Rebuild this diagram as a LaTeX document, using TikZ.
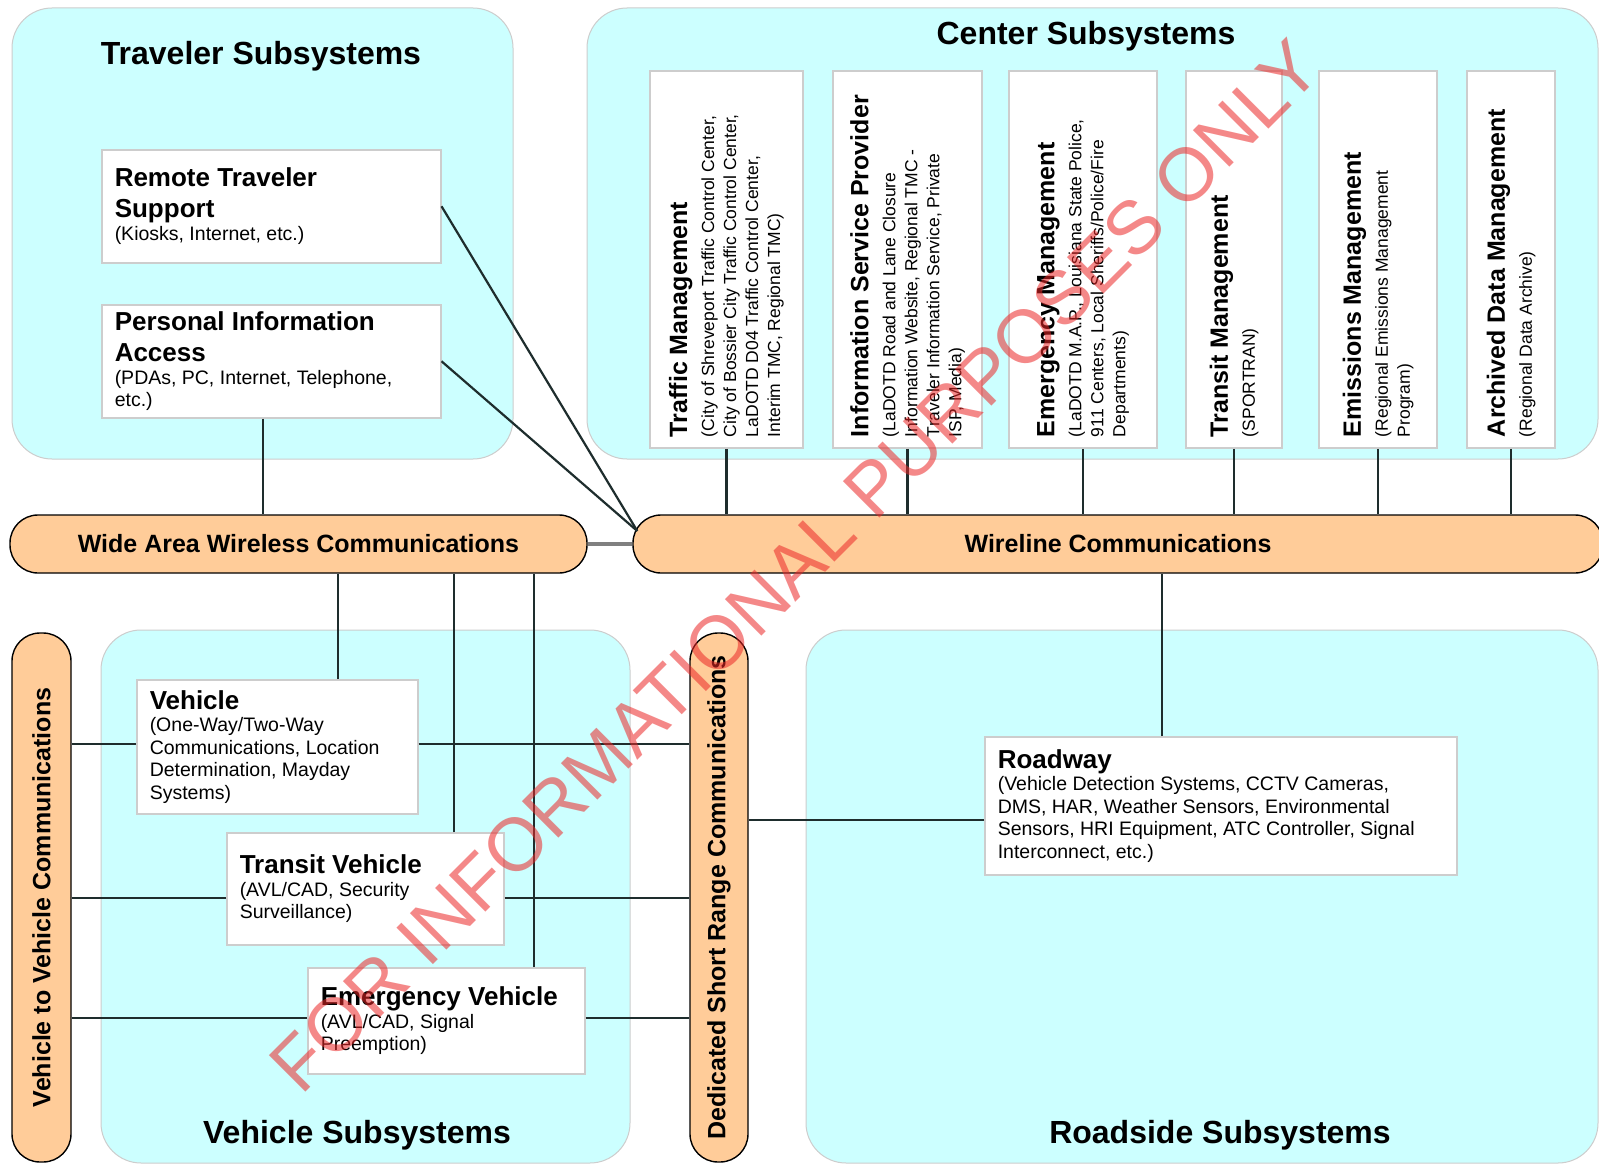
\documentclass[tikz,border=0pt]{standalone}
\usepackage{fontspec}
\setmainfont{Liberation Sans}
\usetikzlibrary{positioning,calc}
\definecolor{aqua}{RGB}{204,255,255}
\definecolor{peach}{RGB}{255,204,153}
\definecolor{rim}{RGB}{205,205,205}
\definecolor{ink}{RGB}{30,45,45}
\definecolor{stampred}{RGB}{235,40,40}
\newcommand{\boxtitle}[1]{{\fontsize{26pt}{31pt}\selectfont\bfseries\spaceskip=0pt\xspaceskip=0pt #1\par}}
\newcommand{\boxnote}[1]{{\fontsize{19.5pt}{22.5pt}\selectfont\spaceskip=0pt\xspaceskip=0pt #1\par}}
\newcommand{\ctrtitle}[1]{{\fontsize{25pt}{29pt}\selectfont\bfseries\spaceskip=0pt\xspaceskip=0pt #1\par}}
\newcommand{\ctrnote}[1]{{\fontsize{17.5pt}{22pt}\selectfont\spaceskip=0pt\xspaceskip=0pt\vskip5pt\noindent #1\par}}
\tikzset{
  region/.style={fill=aqua,draw=rim,line width=1pt,rounded corners=40pt},
  region title/.style={font=\fontsize{32pt}{36pt}\selectfont\bfseries},
  sysbox/.style={draw=rim,fill=white,line width=1.5pt,align=left,anchor=north west,
    inner xsep=13pt,inner ysep=0pt},
  ctrbox/.style={sysbox,anchor=center,rotate=90,minimum width=377pt,text width=355pt,inner xsep=11pt},
  bar/.style={fill=peach,draw=black,line width=1.4pt,rounded corners=28pt,
    font=\fontsize{25pt}{29pt}\selectfont\bfseries},
  link/.style={draw=ink,line width=2.2pt},
  stamp/.style={rotate=45,text=stampred,text opacity=0.55,font=\fontsize{75pt}{80pt}\selectfont}
}
\begin{document}
\begin{tikzpicture}[x=1pt,y=-1pt]
  \useasboundingbox (0,0) rectangle (1599,1164);
  \clip (0,0) rectangle (1599,1164);
  \fill[white] (0,0) rectangle (1599,1164);

  % subsystem areas
  \draw[region] (12,8) rectangle (513,459);
  \draw[region] (587,8) rectangle (1598,459);
  \draw[region] (101,630) rectangle (630,1163);
  \draw[region] (806,630) rectangle (1598,1163);
  \node[region title] (travt) at (261,56) {Traveler Subsystems};
  \node[region title] (ctrt) at (1086,36) {Center Subsystems};
  \node[region title] (veht) at (357,1135) {Vehicle Subsystems};
  \node[region title] (roadt) at (1220,1135) {Roadside Subsystems};

  % communication bars (vertical ones are rotated: .south is the right side)
  \node[bar,minimum width=577pt,minimum height=58pt] (wide) at (298.5,544) {Wide Area Wireless Communications};
  \node[bar,minimum width=970pt,minimum height=58pt] (wire) at (1118,544) {Wireline Communications};
  \node[bar,rotate=90,minimum width=529pt,minimum height=59pt] (v2v) at (41.5,897.5) {Vehicle to Vehicle Communications};
  \node[bar,rotate=90,minimum width=529pt,minimum height=58pt] (dsrc) at (719,897.5) {Dedicated Short Range Communications};

  % traveler and vehicle side
  \node[sysbox,text width=313pt,minimum height=113pt] (rts) at (101,149)
    {\boxtitle{Remote Traveler\\Support}\boxnote{(Kiosks, Internet, etc.)}};
  \node[sysbox,text width=313pt,minimum height=113pt] (pia) at (101,304)
    {\boxtitle{Personal Information\\Access}\boxnote{(PDAs, PC, Internet, Telephone,\\etc.)}};
  \node[sysbox,text width=255pt,minimum height=134pt] (veh) at (136,679)
    {\boxtitle{Vehicle}\boxnote{(One-Way/Two-Way\\Communications, Location\\Determination, Mayday\\Systems)}};
  \node[sysbox,text width=251pt,minimum height=112pt] (trv) at (226,832)
    {\boxtitle{Transit Vehicle}\boxnote{(AVL/CAD, Security\\Surveillance)}};
  \node[sysbox,text width=251pt,minimum height=106pt] (emv) at (307,967)
    {\boxtitle{Emergency Vehicle}\boxnote{(AVL/CAD, Signal\\Preemption)}};
  \node[sysbox,text width=446pt,minimum height=138pt] (road) at (984,736)
    {\boxtitle{Roadway}\boxnote{(Vehicle Detection Systems, CCTV Cameras,\\DMS, HAR, Weather Sensors, Environmental\\Sensors, HRI Equipment, ATC Controller, Signal\\Interconnect, etc.)}};

  % center subsystems
  \foreach \nm/\x/\w/\ttl/\desc in {
    tm/726.5/153/Traffic Management/{(City of Shreveport Traffic Control Center,\\City of Bossier City Traffic Control Center,\\LaDOTD D04 Traffic Control Center,\\Interim TMC, Regional TMC)},
    isp/907.5/149/Information Service Provider/{(LaDOTD Road and Lane Closure\\Information Website, Regional TMC -\\Traveler Information Service, Private\\ISP, Media)},
    em/1083/148/Emergency Management/{(LaDOTD M.A.P., Louisiana State Police,\\911 Centers, Local Sheriffs/Police/Fire\\Departments)},
    trm/1234/96/Transit Management/{(SPORTRAN)},
    emm/1378/118/Emissions Management/{(Regional Emissions Management\\Program)},
    adm/1511/88/Archived Data Management/{(Regional Data Archive)}}
  {
    \node[ctrbox,minimum height=\w pt] (\nm) at (\x,259.5) {\ctrtitle{\ttl}\ctrnote{\desc}};
    \draw[link] (\nm.west) -- (\nm.west |- wire.north);
  }

  % connections
  \coordinate (hub) at ([xshift=5pt,yshift=13pt]wire.west);
  \draw[link] (rts.east) -- (hub);
  \draw[link] (pia.east) -- (hub);
  \draw[link] ([xshift=-8pt]pia.south) -- ([xshift=-8pt]pia.south |- wide.north);
  \draw[draw=gray,line width=4pt] (wide.east) -- (wire.west);
  \foreach \sb/\dx in {veh/60.5,trv/88.5,emv/87.5}
    \draw[link] ([xshift=\dx pt]\sb.north) -- ([xshift=\dx pt]\sb.north |- wide.south);
  \foreach \sb/\dy in {veh/3,trv/-9,emv/3} {
    \draw[link] ([yshift=\dy pt]\sb.west) -- ([yshift=\dy pt]\sb.west -| v2v.south);
    \draw[link] ([yshift=\dy pt]\sb.east) -- ([yshift=\dy pt]\sb.east -| dsrc.north);
  }
  \draw[link] ([yshift=-14pt]road.west) -- ([yshift=-14pt]road.west -| dsrc.south);
  \draw[link] ([xshift=-59pt]road.north) -- ([xshift=-59pt]road.north |- wire.south);

  \node[stamp] (wm) at (795,566) {FOR INFORMATIONAL PURPOSES ONLY};
\end{tikzpicture}
\end{document}
